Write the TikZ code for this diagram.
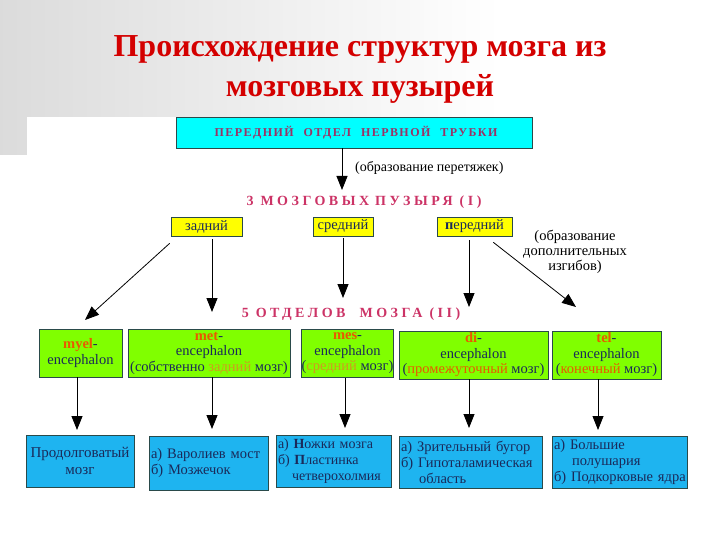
\documentclass[tikz,border=0pt]{standalone}
\usepackage{fontspec}
\setmainfont{Liberation Serif}
\usetikzlibrary{arrows.meta}
\definecolor{titlered}{HTML}{D40000}
\definecolor{headpurple}{HTML}{993366}
\definecolor{pinkred}{HTML}{CC3366}
\definecolor{cyanbox}{HTML}{00FFFF}
\definecolor{yellowbox}{HTML}{FFFF00}
\definecolor{greenbox}{HTML}{80FF00}
\definecolor{bluebox}{HTML}{1EB4F0}
\definecolor{navytext}{HTML}{1A2A5A}
\definecolor{orangetext}{HTML}{E85A00}
\definecolor{goldtext}{HTML}{D09A20}
\definecolor{boxborder}{HTML}{2A4A4A}
\begin{document}
\begin{tikzpicture}[x=1pt,y=-1pt,
  boxbase/.style={draw=boxborder, line width=0.7pt, inner sep=0pt},
  cyanb/.style={boxbase, fill=cyanbox},
  yellowb/.style={boxbase, fill=yellowbox, text=navytext, font=\fontsize{14.5}{16}\selectfont},
  greenb/.style={boxbase, fill=greenbox, minimum height=48pt, align=center, text=navytext, font=\fontsize{14.5}{15.5}\selectfont},
  blueb/.style={boxbase, fill=bluebox, minimum height=52pt, inner xsep=2pt, align=left, text=navytext, font=\fontsize{14.5}{16}\selectfont},
  lbl/.style={inner sep=0pt, font=\fontsize{14}{15}\selectfont, text=black},
  heading/.style={inner sep=0pt, font=\fontsize{14}{15}\selectfont\bfseries\addfontfeatures{LetterSpace=25}, text=pinkred},
  arr/.style={line width=0.8pt, -{Triangle[length=14pt,width=11pt]}},
]
\useasboundingbox (0,0) rectangle (720,540);
% background
\shade[left color=black!14, right color=white] (0,0) rectangle (500,155);
\fill[white] (27,117) rectangle (720,540);

% title
\node[inner sep=0pt, text=titlered, font=\fontsize{32}{40}\selectfont\bfseries, align=center] (title) at (360,69)
  {Происхождение структур мозга из\\мозговых пузырей};

% top box
\node[cyanb, minimum width=356pt, minimum height=31pt,
      font=\fontsize{12}{13}\selectfont\bfseries\addfontfeatures{LetterSpace=12}, text=headpurple] (tube) at (354,132.5)
  {\hspace{4pt}ПЕРЕДНИЙ\hspace{10pt}ОТДЕЛ\hspace{10pt}НЕРВНОЙ\hspace{10pt}ТРУБКИ};
\coordinate (c1) at (342,190);
\draw[arr] (tube.south -| c1) -- (c1);
\node[lbl, anchor=west] (constr) at (355,168) {(образование перетяжек)};

\node[heading] (ves3) at (364,202) {3 МОЗГОВЫХ\hspace{6pt}ПУЗЫРЯ (I)};

% vesicles
\node[yellowb, minimum width=71pt, minimum height=19pt] (zad) at (206.5,226.5) {задний};
\node[yellowb, minimum width=60pt, minimum height=19pt] (sred) at (343,226.5) {средний};
\node[yellowb, minimum width=75pt, minimum height=19pt] (pered) at (474.5,226.5) {\textbf{п}ередний};

\node[lbl, align=center, font=\fontsize{14.5}{15}\selectfont] (bends) at (575,252) {(образование\\дополнительных\\изгибов)};

\coordinate (e1) at (85,320);
\coordinate (e2) at (212,312);
\coordinate (e3) at (343,298);
\coordinate (e4) at (469,307);
\coordinate (e5) at (576,307);
\draw[arr] ([xshift=-1pt,yshift=-7pt]zad.south west) -- (e1);
\draw[arr] ([yshift=-3pt]zad.south -| e2) -- (e2);
\draw[arr] ([yshift=-2pt]sred.south -| e3) -- (e3);
\draw[arr] ([yshift=-4pt]pered.south -| e4) -- (e4);
\draw[arr] ([xshift=-19pt,yshift=-6pt]pered.south east) -- (e5);

\node[heading] (dep5) at (351,314) {5 ОТДЕЛОВ\hspace{14pt}МОЗГА (II)};

% five divisions
\node[greenb, minimum width=83pt] (myel) at (80.5,353)
  {\textcolor{orangetext}{\textbf{myel}}-\\encephalon};
\node[greenb, minimum width=162pt] (met) at (209,353)
  {\textcolor{orangetext}{\textbf{met}}-\\encephalon\\(собственно \textcolor{goldtext}{задний} мозг)};
\node[greenb, minimum width=91pt] (mes) at (347.5,353.5)
  {\textcolor{orangetext}{\textbf{mes}}-\\encephalon\\(\textcolor{goldtext}{средний} мозг)};
\node[greenb, minimum width=149pt] (di) at (473.5,355)
  {\textcolor{orangetext}{\textbf{di}}-\\encephalon\\(\textcolor{orangetext}{промежуточный} мозг)};
\node[greenb, minimum width=109pt] (tel) at (606.5,355)
  {\textcolor{orangetext}{\textbf{tel}}-\\encephalon\\(\textcolor{orangetext}{конечный} мозг)};

% arrows to structures
\coordinate (t1) at (77,430);
\coordinate (t2) at (212,429);
\coordinate (t3) at (345,428);
\coordinate (t4) at (469,428);
\coordinate (t5) at (598,430);
\draw[arr] (myel.south -| t1) -- (t1);
\draw[arr] (met.south -| t2) -- (t2);
\draw[arr] (mes.south -| t3) -- (t3);
\draw[arr] (di.south -| t4) -- (t4);
\draw[arr] (tel.south -| t5) -- (t5);

% structures
\node[blueb, text width=104pt, align=center, font=\fontsize{15}{17}\selectfont] (b1) at (80,461) {Продолговатый\\мозг};
\node[blueb, text width=115pt, minimum height=54pt] (b2) at (208.5,463) {а) Варолиев мост\\б) Мозжечок};
\node[blueb, text width=111pt, font=\fontsize{14}{16}\selectfont] (b3) at (333.5,461)
  {\mbox{а) \textbf{Н}ожки мозга}\\\mbox{б) \textbf{П}ластинка}\\\mbox{\hspace{14pt}четверохолмия}};
\node[blueb, text width=139pt] (b4) at (470.5,462)
  {\mbox{а) Зрительный бугор}\\\mbox{б) Гипоталамическая}\\\mbox{\hspace{18pt}область}};
\node[blueb, text width=131pt] (b5) at (619.5,462)
  {\mbox{а) Большие}\\\mbox{\hspace{18pt}полушария}\\\mbox{б) Подкорковые ядра}};
\end{tikzpicture}
\end{document}
